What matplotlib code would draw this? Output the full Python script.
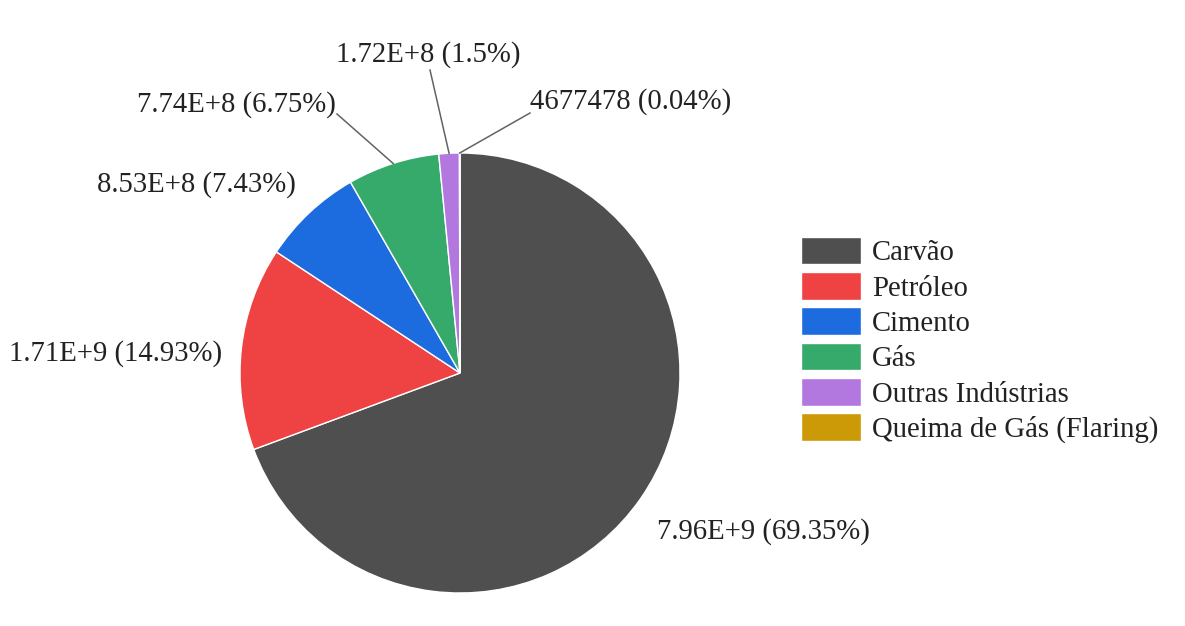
import numpy as np
import matplotlib
matplotlib.use("Agg")
import matplotlib.pyplot as plt

# Emissions by source
categories = ["Carvão", "Petróleo", "Cimento", "Gás", "Outras Indústrias", "Queima de Gás (Flaring)"]
values = [7.960e9, 1.7137e9, 8.528e8, 7.748e8, 1.722e8, 4677478]
value_labels = ["7.96E+9 (69.35%)", "1.71E+9 (14.93%)", "8.53E+8 (7.43%)",
                "7.74E+8 (6.75%)", "1.72E+8 (1.5%)", "4677478 (0.04%)"]
colors = ["#4f4f4f", "#ef4242", "#1c6ce0", "#36aa6b", "#b278e0", "#cc9a06"]

W, H = 1185, 626
FS = 20.7
plt.rcParams["font.family"] = ["Liberation Serif", "DejaVu Serif"]
fig = plt.figure(figsize=(W / 100, H / 100), dpi=100)
ax = fig.add_axes([0, 0, 1, 1])
ax.set_aspect("equal")

cx, cy, r = 460, H - 373, 220
wedges, _ = ax.pie(values, colors=colors, startangle=90, counterclock=False,
                   center=(cx, cy), radius=r, frame=True,
                   wedgeprops=dict(edgecolor="white", linewidth=1))
ax.set_xlim(0, W)
ax.set_ylim(0, H)
ax.axis("off")

# label placement (text anchor, alignment, leader line end or None)
label_pos = [
    ((657, H - 532), "left", None),
    ((222, H - 354), "right", None),
    ((296, H - 185), "right", None),
    ((336, H - 105), "right", (337, H - 114)),
    ((428, H - 55), "center", (430, H - 70)),
    ((530, H - 102), "left", (530, H - 113)),
]

for w, txt, (pos, ha, line_end) in zip(wedges, value_labels, label_pos):
    ax.text(pos[0], pos[1], txt, ha=ha, va="center", fontsize=FS, color="#222222")
    if line_end is not None:
        mid = np.deg2rad((w.theta1 + w.theta2) / 2)
        sx, sy = cx + r * np.cos(mid), cy + r * np.sin(mid)
        ax.plot([sx, line_end[0]], [sy, line_end[1]], color="#636363", lw=1.1)

fig.legend(wedges, categories, loc="center left",
           bbox_to_anchor=(801 / W, 1 - 340 / H), frameon=False, fontsize=FS,
           handlelength=2.1, handleheight=1.1, handletextpad=0.38,
           labelspacing=0.2, borderpad=0, borderaxespad=0,
           labelcolor="#222222")

fig.savefig("out.png", dpi=100, facecolor="white")
